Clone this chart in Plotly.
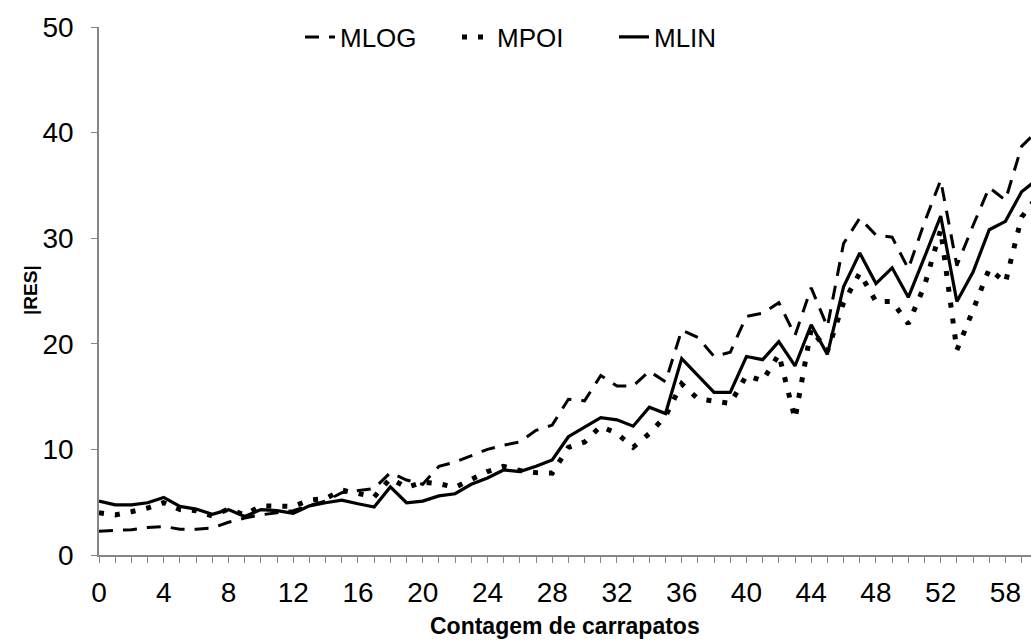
import plotly.graph_objects as go

# Category labels (tick counts)
categories = [str(i) for i in range(55)] + ["56", "58", "59", "60"]

mlog = [2.25, 2.3, 2.4, 2.6, 2.7, 2.45, 2.45, 2.55, 3.1, 3.5,
        3.8, 4.0, 4.2, 4.7, 5.1, 5.9, 6.1, 6.3, 7.8, 7.1,
        6.7, 8.4, 8.8, 9.4, 10.0, 10.4, 10.7, 11.8, 12.3, 14.75,
        14.6, 17.0, 16.0, 16.0, 17.4, 16.4, 21.3, 20.6, 18.8, 19.2,
        22.6, 22.9, 23.9, 20.8, 25.3, 21.6, 29.5, 31.9, 30.3, 30.1,
        27.1, 31.5, 35.5, 27.4, 31.2, 34.8, 33.6, 38.7, 40.2]

mpoi = [4.0, 3.8, 4.1, 4.45, 4.95, 4.3, 4.2, 3.7, 4.35, 3.8,
        4.65, 4.6, 4.6, 5.2, 5.35, 6.15, 5.8, 5.5, 7.25, 6.4,
        6.9, 6.75, 6.4, 7.1, 7.9, 8.4, 8.0, 7.8, 7.75, 10.2,
        10.7, 12.2, 11.5, 10.2, 11.5, 13.15, 16.2, 14.8, 14.6, 14.35,
        17.0, 16.5, 19.0, 12.9, 21.4, 19.3, 23.9, 26.7, 24.0, 24.0,
        21.9, 25.5, 30.8, 19.4, 23.2, 27.1, 25.8, 32.0, 34.0]

mlin = [5.1, 4.75, 4.75, 4.95, 5.45, 4.6, 4.35, 3.85, 4.3, 3.65,
        4.3, 4.2, 3.95, 4.65, 4.95, 5.2, 4.85, 4.55, 6.45, 4.95,
        5.1, 5.6, 5.8, 6.7, 7.3, 8.05, 7.9, 8.4, 9.0, 11.2,
        12.1, 13.0, 12.8, 12.2, 14.0, 13.4, 18.6, 17.0, 15.4, 15.4,
        18.8, 18.5, 20.2, 17.9, 21.8, 19.0, 25.4, 28.6, 25.7, 27.2,
        24.4, 28.2, 32.1, 24.0, 26.8, 30.8, 31.6, 34.4, 35.6]

y_ticks = [0, 10, 20, 30, 40, 50]

FONT = "Liberation Sans, Arial, sans-serif"
AXIS_GRAY = "#868686"

fig = go.Figure()
fig.add_trace(go.Scatter(x=categories, y=mlog, name="MLOG", mode="lines",
                         line=dict(color="black", width=3, dash="14px,10px")))
fig.add_trace(go.Scatter(x=categories, y=mpoi, name="MPOI", mode="lines",
                         line=dict(color="black", width=5, dash="5px,11px")))
fig.add_trace(go.Scatter(x=categories, y=mlin, name="MLIN", mode="lines",
                         line=dict(color="black", width=3.2)))

ticktext = [c if i % 4 == 0 else "" for i, c in enumerate(categories)]

fig.update_layout(
    width=1031, height=641,
    margin=dict(l=99, r=0, t=27, b=86),
    paper_bgcolor="white", plot_bgcolor="white",
    font=dict(family=FONT, color="black", size=28),
    showlegend=True,
    legend=dict(orientation="h", x=(300 - 99) / 932, xanchor="left",
                y=0.981, yanchor="middle",
                bgcolor="rgba(0,0,0,0)", font=dict(size=26),
                entrywidth=112, entrywidthmode="pixels",
                traceorder="normal"),
    xaxis=dict(type="category", categoryorder="array", categoryarray=categories,
               range=[0, 57.58], showline=True, linecolor=AXIS_GRAY, linewidth=1.5,
               ticks="outside", ticklen=6, tickcolor=AXIS_GRAY, tickwidth=1.3,
               tickmode="array", tickvals=categories, ticktext=ticktext,
               tickangle=0, showgrid=False, zeroline=False,
               tickfont=dict(size=28), ticklabelstandoff=6),
    yaxis=dict(range=[0, 50], tickvals=y_ticks, showline=True, linecolor=AXIS_GRAY,
               linewidth=1.5, ticks="outside", ticklen=6, tickcolor=AXIS_GRAY,
               tickwidth=1.3, showgrid=False, zeroline=False,
               tickfont=dict(size=28), ticklabelstandoff=12),
    annotations=[
        dict(text="<b>Contagem de carrapatos</b>", xref="paper", yref="paper",
             x=0.5, y=(555 - 626) / 528, xanchor="center", yanchor="middle",
             showarrow=False, font=dict(size=23)),
        dict(text="<b>|RES|</b>", xref="paper", yref="paper",
             x=(30 - 99) / 932, y=(555 - 290) / 528, xanchor="center", yanchor="middle",
             textangle=-90, showarrow=False, font=dict(size=19)),
    ],
)

fig.write_html("out.html")
